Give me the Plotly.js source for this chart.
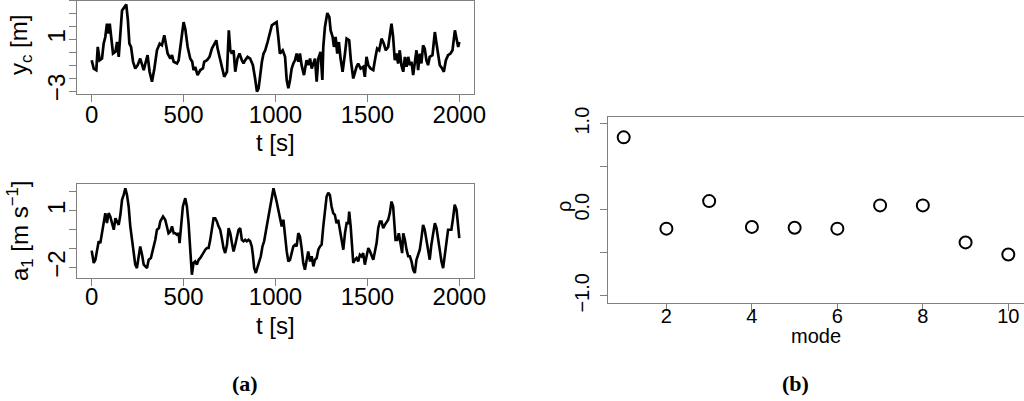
<!DOCTYPE html>
<html>
<head>
<meta charset="utf-8">
<script src="https://cdn.plot.ly/plotly-3.0.1.min.js"></script>
<style>html,body{margin:0;padding:0;background:#fff;}#chart{width:1024px;height:401px;}</style>
</head>
<body>
<div id="chart"></div>
<script>
// ---- Panel (a) top: y_c [m] ----
var tTop = [0,11,25,33,43,56,65,74,83,92,98,105,116,129,138,147,156,165,178,188,197,205,214,225,237,250,264,274,283,292,304,315,328,341,355,370,382,395,406,413,428,437,446,464,473,486,500,509,522,536,547,554,563,576,591,605,612,627,641,654,667,678,685,696,708,721,736,746,754,763,772,781,793,804,817,826,835,848,862,877,889,899,908,917,926,935,944,957,971,980,993,
1006,1015,1024,1039,1052,1061,1070,1079,1088,1097,1106,1115,1124,1133,1142,1155,1169,1178,1188,1197,1206,1215,1224,1233,1245,1255,1260,1269,1282,1293,1300,1311,1318,1327,1336,1345,1354,1365,1378,1387,1401,1410,1423,1432,1441,1450,1463,1477,1486,1495,1505,1517,1532,1544,1553,1564,1577,1589,1600,1613,1622,1631,1640,1649,1658,1667,1676,1685,1695,1704,1713,1722,1731,1740,1749,1758,1767,1776,1785,1794,1803,1812,1821,1830,1839,1854,1867,1876,1885,1894,1907,1916,1927,1939,1952,1963,1976,1985,1994,2000];
var yTop = [-0.62,-1.26,-1.38,0.41,-0.62,-0.49,0.67,1.18,2.21,1.44,2.21,1.18,-0.10,0.03,0.79,-0.36,1.69,3.23,3.49,3.69,2.46,0.67,0.41,-0.74,-1.26,-1.0,-0.49,-1.0,-1.38,-0.87,-0.23,-1.51,-2.28,-1.26,0.15,0.67,0.54,1.31,0.41,-0.10,-0.49,-0.23,-0.74,-0.87,-0.62,0.92,2.33,1.82,0.41,-0.49,-0.74,-1.38,-1.13,-1.77,-1.38,-1.26,-0.74,-0.62,-0.36,0.28,0.67,0.92,0.28,-0.36,-1.0,-1.90,-1.51,1.69,0.15,-0.10,0.15,-1.51,-0.49,-0.10,-0.62,-0.87,-0.62,-0.36,-0.49,-1.0,-2.03,-3.05,-2.79,-1.64,-0.74,-0.10,0.15,0.79,1.56,2.08,2.21,
2.33,1.18,-0.10,0.15,-0.36,-2.15,-2.79,-2.15,-1.26,-0.87,-0.62,-0.10,-0.74,-0.10,-1.0,-1.77,-0.62,-1.0,-0.49,-1.26,-0.87,-0.49,-2.28,-0.49,0.03,-2.15,0.41,1.95,3.03,2.72,1.69,1.18,0.41,1.18,-0.10,0.79,-0.49,-1.51,-0.10,1.05,0.92,-0.62,-2.03,-1.51,-1.13,-0.87,-1.26,-1.13,-1.90,-0.36,-1.0,-1.26,-1.38,-0.36,0.28,0.15,1.05,0.67,0.15,0.41,1.18,2.21,1.18,-0.62,-0.10,-0.87,0.15,-1.0,-1.51,-0.36,-1.13,-0.36,-1.0,-0.74,-1.77,-0.62,0.15,-1.38,-0.10,-0.87,0.54,0.28,-0.62,-1.0,-0.36,-0.23,1.56,0.67,-0.23,-1.0,-1.26,-1.51,-0.62,-0.23,-0.10,0.15,1.69,0.92,0.41,0.79];

// ---- Panel (a) bottom: a_1 [m s^-1] ----
var tBot = [0,11,20,29,38,47,56,65,74,83,92,101,111,120,129,138,147,156,165,174,183,192,201,210,219,228,237,246,255,264,274,283,292,301,310,322,333,346,355,366,373,388,400,409,418,428,437,446,455,464,473,478,486,496,509,518,527,536,545,554,563,572,582,591,600,609,618,627,636,645,654,663,672,681,690,699,708,717,726,736,745,754,763,772,781,790,799,808,817,826,835,844,853,862,871,877,884,893,902,911,920,929,938,949,962,971,980,989,
1006,1015,1024,1034,1043,1052,1061,1070,1079,1088,1097,1106,1115,1124,1133,1142,1151,1160,1169,1178,1188,1197,1206,1215,1224,1233,1242,1251,1260,1269,1278,1287,1296,1305,1314,1323,1332,1341,1351,1360,1369,1378,1387,1396,1401,1409,1416,1423,1432,1441,1450,1459,1468,1477,1486,1495,1505,1514,1523,1532,1541,1550,1559,1568,1577,1586,1595,1604,1613,1622,1631,1640,1646,1653,1662,1671,1680,1689,1695,1704,1713,1722,1731,1740,1749,1758,1767,1776,1785,1794,1803,1812,1821,1830,1839,1848,1858,1867,1876,1885,1894,1903,1912,1921,1930,1939,1948,1957,1966,1975,1985,1994,2000];
var yBot = [-1.1,-1.75,-1.58,-1.14,-0.61,-0.70,-0.18,0.44,0.88,0.35,0.88,0.70,0.35,0.0,0.61,0.44,0.26,0.79,1.58,1.84,2.19,1.84,1.23,0.18,-0.61,-1.32,-1.84,-2.02,-1.40,-0.88,-1.32,-1.84,-1.93,-2.02,-1.58,-1.49,-1.05,-0.53,0.0,0.09,0.44,0.70,0.53,0.18,-0.18,-0.09,0.18,-0.18,-0.18,-0.26,-0.18,-0.70,0.35,1.23,1.67,1.23,0.35,-0.88,-2.37,-1.75,-1.67,-1.84,-1.58,-1.49,-1.32,-1.14,-1.05,-0.96,-0.96,-0.53,0.0,0.61,0.61,0.44,0.18,0.0,-0.44,-0.96,-1.23,-0.79,0.09,-0.18,-0.70,-1.14,-0.79,-0.44,0.0,0.09,-0.53,-0.61,-0.53,-0.61,-0.53,-0.61,-0.88,-1.32,-2.02,-2.28,-2.02,-1.67,-1.40,-0.88,-0.61,0.0,0.70,1.40,1.84,2.19,
1.49,1.05,0.70,0.18,0.53,-0.35,-1.14,-1.67,-1.58,-1.23,-0.88,-0.79,-0.88,-0.18,-0.35,-0.96,-1.75,-2.11,-1.58,-1.14,-1.67,-1.40,-1.93,-1.58,-1.49,-1.05,-0.88,-0.79,0.18,1.14,1.75,1.96,1.84,1.23,0.88,0.79,0.35,0.53,0.0,-0.44,-1.05,-0.18,0.35,0.35,0.96,0.18,-0.88,-1.75,-1.58,-1.49,-1.67,-1.32,-1.40,-1.23,-1.84,-1.40,-0.96,-1.14,-1.32,-1.58,-1.14,-0.70,0.09,0.44,0.44,0.09,0.26,0.44,0.53,0.88,1.49,1.23,0.35,-0.53,-0.53,-0.18,-0.70,-1.23,-0.18,-0.53,-1.05,-1.40,-1.40,-1.67,-2.11,-2.28,-1.58,-1.32,-1.05,-0.44,0.26,0.0,-0.53,-1.05,-1.58,-0.79,-0.18,0.35,0.09,-0.53,-1.23,-1.67,-2.02,-1.23,-0.70,0.0,0.0,0.0,0.61,1.32,1.05,0.18,-0.44];

// ---- Panel (b): correlation per mode ----
var modes = [1,2,3,4,5,6,7,8,9,10];
var rho = [0.84,-0.22,0.10,-0.20,-0.21,-0.22,0.05,0.05,-0.38,-0.52];

// tick labels (labelled ticks) and unlabelled minor tick spacing
var xTimeTicks = [0,500,1000,1500,2000];
var yTopTicks = [-3,1];
var yTopText = ['\u22123','1'];
var yBotTicks = [-2,1];
var yBotText = ['\u22122','1'];
var xModeTicks = [2,4,6,8,10];
var yRhoTicks = [-1,0,1];
var yRhoText = ['\u22121.0','0.0','1.0'];

var W = 1024, H = 401;
function fx(px){return px/W;}
function fy(px){return 1-px/H;}

var FONT = 'Liberation Sans, Arial, Helvetica, sans-serif';
var GREY = '#808080';

function axisBase(extra){
  var a = {showline:true, mirror:true, linecolor:GREY, linewidth:1, ticks:'outside', ticklen:7, tickwidth:1, tickcolor:GREY,
           showgrid:false, zeroline:false, fixedrange:true, tickfont:{family:FONT, size:24, color:'#000'}};
  for (var k in extra) a[k] = extra[k];
  return a;
}
function minorTicks(dt){
  return {tickmode:'linear', tick0:0, dtick:dt, ticks:'outside', ticklen:7, tickwidth:1, tickcolor:GREY, showgrid:false};
}

var traces = [
  {x:tTop, y:yTop, type:'scatter', mode:'lines', line:{color:'#000', width:2.7}, xaxis:'x', yaxis:'y', hoverinfo:'skip'},
  {x:tBot, y:yBot, type:'scatter', mode:'lines', line:{color:'#000', width:2.6}, xaxis:'x2', yaxis:'y2', hoverinfo:'skip'},
  {x:modes, y:rho, type:'scatter', mode:'markers', marker:{symbol:'circle-open', size:12, color:'#000', line:{color:'#000', width:2}}, xaxis:'x3', yaxis:'y3', hoverinfo:'skip'}
];

var layout = {
  width:W, height:H, margin:{l:0,r:0,t:0,b:0}, paper_bgcolor:'#fff', plot_bgcolor:'#fff', showlegend:false,
  font:{family:FONT, color:'#000'},
  xaxis: axisBase({domain:[fx(77),fx(474)], range:[-80,2080], tickmode:'array', tickvals:xTimeTicks, anchor:'y', ticklabelstandoff:-8}),
  yaxis: axisBase({domain:[fy(94),fy(0.5)], range:[-3.23,4.0], tickmode:'array', tickvals:yTopTicks, ticktext:yTopText, tickangle:-90, anchor:'x', ticklabelstandoff:-6, minor:minorTicks(1)}),
  xaxis2: axisBase({domain:[fx(77),fx(474)], range:[-80,2080], tickmode:'array', tickvals:xTimeTicks, anchor:'y2', ticklabelstandoff:-10}),
  yaxis2: axisBase({domain:[fy(278.3),fy(184.3)], range:[-2.56,2.4], tickmode:'array', tickvals:yBotTicks, ticktext:yBotText, tickangle:-90, anchor:'x2', ticklabelstandoff:-6, minor:minorTicks(1)}),
  xaxis3: axisBase({domain:[fx(608.3),fx(1023.7)], range:[0.64,10.36], tickmode:'array', tickvals:xModeTicks, anchor:'y3', ticklabelstandoff:-12, tickfont:{family:FONT,size:20,color:'#000'}}),
  yaxis3: axisBase({domain:[fy(302.7),fy(116.7)], range:[-1.08,1.08], tickmode:'array', tickvals:yRhoTicks, ticktext:yRhoText, tickangle:-90, anchor:'x3', ticklabelstandoff:3, minor:minorTicks(0.5), tickfont:{family:FONT,size:20,color:'#000'}}),
  annotations: [
    {text:'t [s]', xref:'paper', yref:'paper', x:fx(275.5), y:fy(142.5), xanchor:'center', yanchor:'middle', showarrow:false, font:{family:FONT,size:24,color:'#000'}},
    {text:'t [s]', xref:'paper', yref:'paper', x:fx(275.5), y:fy(325), xanchor:'center', yanchor:'middle', showarrow:false, font:{family:FONT,size:24,color:'#000'}},
    {text:'y<sub>c</sub> [m]', xref:'paper', yref:'paper', x:fx(20), y:fy(45), xanchor:'center', yanchor:'middle', textangle:-90, showarrow:false, font:{family:FONT,size:24,color:'#000'}},
    {text:'a<sub>1</sub> [m s<sup>\u22121</sup>]', xref:'paper', yref:'paper', x:fx(20), y:fy(231), xanchor:'center', yanchor:'middle', textangle:-90, showarrow:false, font:{family:FONT,size:24,color:'#000'}},
    {text:'\u03c1', xref:'paper', yref:'paper', x:fx(564), y:fy(207), xanchor:'center', yanchor:'middle', textangle:-90, showarrow:false, font:{family:FONT,size:20,color:'#000'}},
    {text:'mode', xref:'paper', yref:'paper', x:fx(816), y:fy(336), xanchor:'center', yanchor:'middle', showarrow:false, font:{family:FONT,size:20,color:'#000'}},
    {text:'<b>(a)</b>', xref:'paper', yref:'paper', x:fx(245), y:fy(383), xanchor:'center', yanchor:'middle', showarrow:false, font:{family:'Liberation Serif, Times New Roman, serif',size:22,color:'#000'}},
    {text:'<b>(b)</b>', xref:'paper', yref:'paper', x:fx(795), y:fy(383), xanchor:'center', yanchor:'middle', showarrow:false, font:{family:'Liberation Serif, Times New Roman, serif',size:22,color:'#000'}}
  ]
};

Plotly.newPlot('chart', traces, layout, {staticPlot:true, displayModeBar:false});
</script>
</body>
</html>
